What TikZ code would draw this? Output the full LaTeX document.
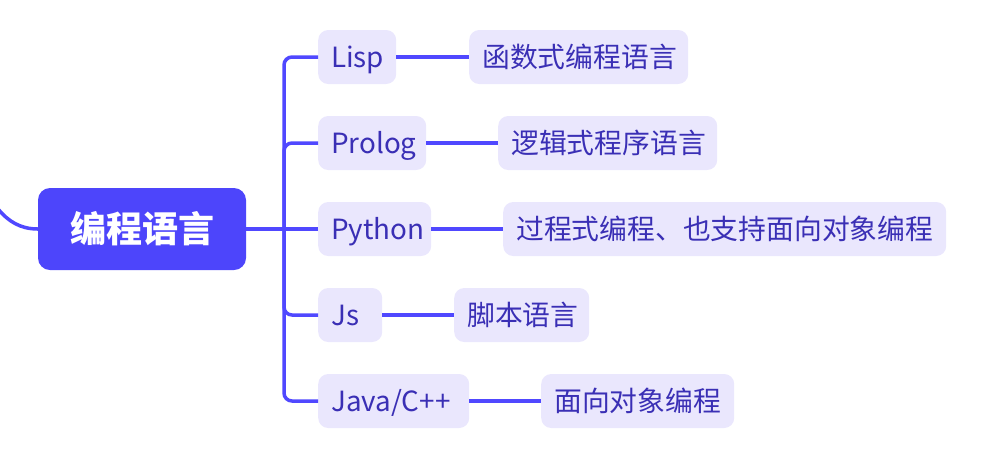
\documentclass[tikz,border=0pt]{standalone}
\usepackage{fontspec}
\setmainfont{Noto Sans CJK SC}
\definecolor{rootc}{HTML}{4D45FB}
\definecolor{linec}{HTML}{5048FF}
\definecolor{subc}{HTML}{EAE7FD}
\definecolor{txtc}{HTML}{3A2FB5}
\tikzset{
  rootnode/.style={rectangle, rounded corners=12pt, fill=rootc, text=white, minimum width=208pt, minimum height=82pt, inner sep=0pt, text height=27.4pt, text depth=0pt, font=\fontsize{36}{42}\selectfont\bfseries},
  subnode/.style={rectangle, rounded corners=10pt, fill=subc, text=txtc, anchor=west, minimum height=54pt, inner xsep=13pt, inner ysep=0pt, align=left, text height=21.1pt, text depth=0pt, font=\fontsize{27.8}{32}\selectfont},
  conn/.style={draw=linec, line width=3.5pt},
}
\begin{document}
\begin{tikzpicture}[x=1pt,y=-1pt]
\useasboundingbox (0,0) rectangle (984,456);
\node[rootnode] (root) at (142,229) {编程语言};
% children
\node[subnode, text width=52pt] (lisp) at (318,57) {Lisp};
\node[subnode, text width=82pt] (prolog) at (318,143) {Prolog};
\node[subnode, text width=87pt] (python) at (318,229) {Python};
\node[subnode, text width=38pt] (js) at (318,315) {Js};
\node[subnode, text width=125pt] (java) at (318,401) {Java/C++};
% grandchildren
\node[subnode, text width=193pt] (g1) at (469,57) {函数式编程语言};
\node[subnode, text width=193pt] (g2) at (498,143) {逻辑式程序语言};
\node[subnode, text width=417pt] (g3) at (503,229) {过程式编程、也支持面向对象编程};
\node[subnode, text width=109pt] (g4) at (454,315) {脚本语言};
\node[subnode, text width=167pt] (g5) at (541,401) {面向对象编程};
\coordinate (spine) at (284,229);
\coordinate (lft) at (-2,209);
% incoming curve
\draw[conn] (root.west) .. controls (20,229) and (8,221) .. (lft);
% branches
\draw[conn] (root.east) -- (python.west);
\foreach \c in {lisp,prolog,js,java}{
  \draw[conn, rounded corners=8pt] (spine) |- (\c.west);
}
\draw[conn] (lisp.east) -- (g1.west);
\draw[conn] (prolog.east) -- (g2.west);
\draw[conn] (python.east) -- (g3.west);
\draw[conn] (js.east) -- (g4.west);
\draw[conn] (java.east) -- (g5.west);
\end{tikzpicture}
\end{document}
